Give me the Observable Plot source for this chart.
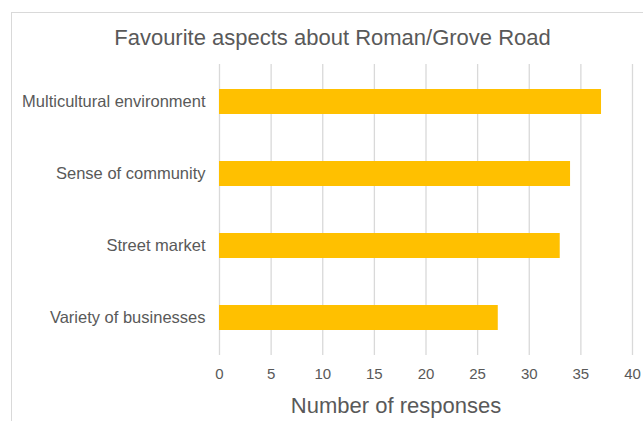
<!DOCTYPE html>
<html>
<head>
<meta charset="utf-8">
<script src="https://cdn.jsdelivr.net/npm/d3@7"></script>
<script src="https://cdn.jsdelivr.net/npm/@observablehq/plot@0.6"></script>
<style>
  html, body { margin: 0; padding: 0; background: #fff; }
  #wrap { position: relative; width: 643px; height: 421px; overflow: hidden; font-family: "Liberation Sans", Arial, sans-serif; color: #595959; }
  #frame { position: absolute; left: 11px; top: 12px; width: 700px; height: 500px; border-left: 1px solid #d9d9d9; border-top: 1px solid #d9d9d9; }
  #title { position: absolute; left: 0; width: 665px; top: 25px; text-align: center; font-size: 22px; white-space: nowrap; }
  #xlabel { position: absolute; left: 196px; width: 400px; top: 393px; text-align: center; font-size: 22px; white-space: nowrap; }
  #chart { position: absolute; left: 0; top: 0; }
</style>
</head>
<body>
<div id="wrap">
  <div id="frame"></div>
  <div id="chart"></div>
  <div id="title">Favourite aspects about Roman/Grove Road</div>
  <div id="xlabel">Number of responses</div>
</div>
<script>
const categories = ["Multicultural environment", "Sense of community", "Street market", "Variety of businesses"];
const responses = [37, 34, 33, 27];
const xTicks = [0, 5, 10, 15, 20, 25, 30, 35, 40];

const data = categories.map((c, i) => ({category: c, value: responses[i]}));

const chart = Plot.plot({
  width: 643,
  height: 421,
  marginLeft: 219,
  marginRight: 11,
  marginTop: 64,
  marginBottom: 66,
  style: {fontFamily: "'Liberation Sans', Arial, sans-serif", fontSize: "15px", color: "#595959", background: "transparent"},
  x: {domain: [0, 40], ticks: xTicks, label: null},
  y: {domain: categories, paddingInner: 0.656, paddingOuter: 0.328, label: null},
  marks: [
    Plot.ruleX(xTicks, {stroke: "#d9d9d9", strokeWidth: 1.3, strokeOpacity: 1}),
    Plot.barX(data, {x: "value", y: "category", fill: "#FFC000"}),
    Plot.axisX({ticks: xTicks, tickSize: 0, tickPadding: 13, fontSize: 15, fill: "#595959", label: null}),
    Plot.axisY({tickSize: 0, tickPadding: 14, fontSize: 16.5, fill: "#595959", label: null})
  ]
});
document.getElementById("chart").appendChild(chart);
</script>
</body>
</html>
